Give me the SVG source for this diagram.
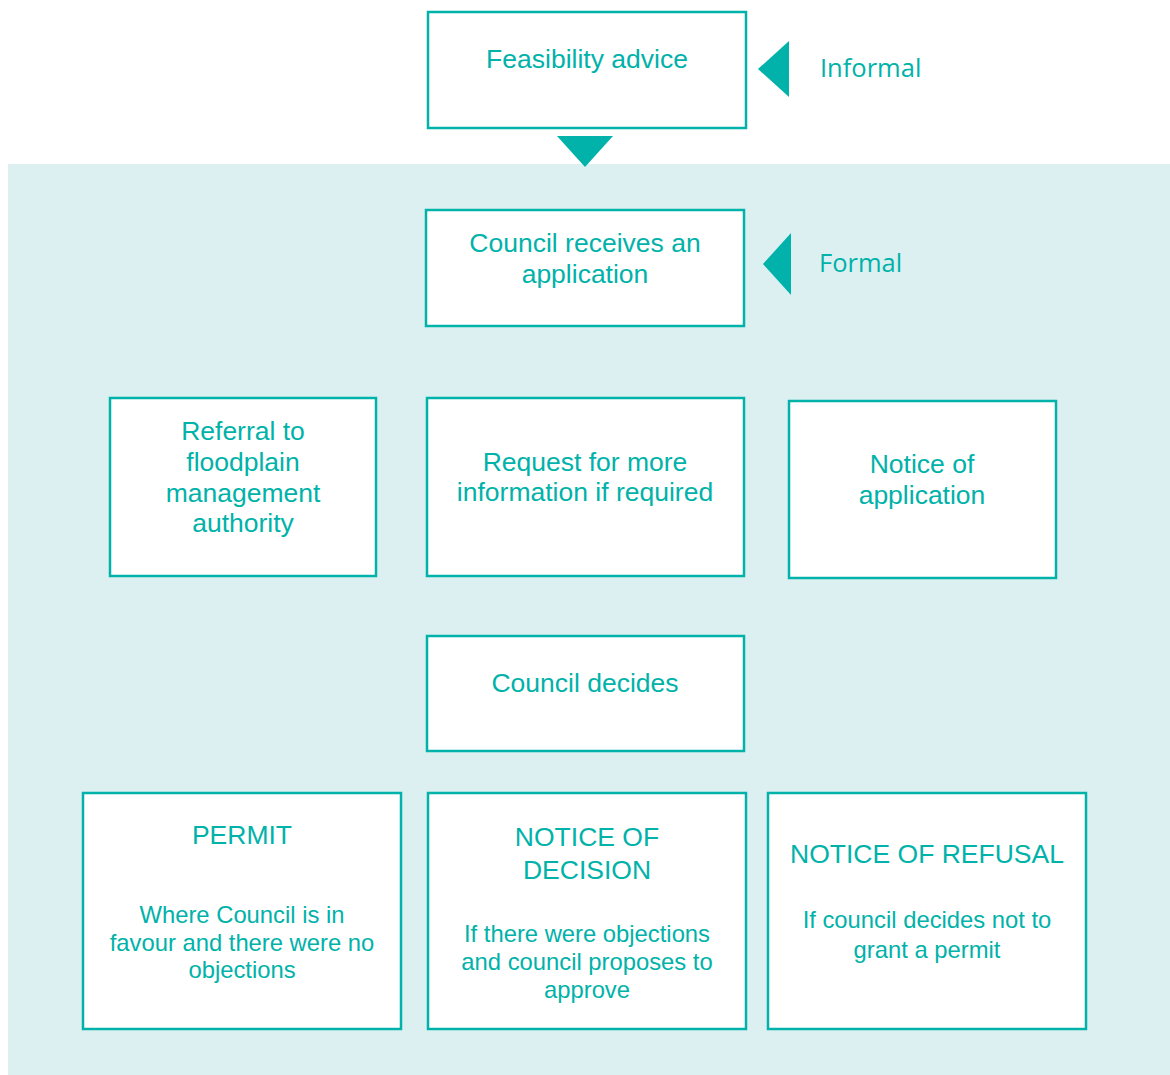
<svg xmlns="http://www.w3.org/2000/svg" width="1170" height="1075" viewBox="0 0 1170 1075">
<style>
.box{fill:#fff;stroke:#00b2a9;stroke-width:2.5}
.tri{fill:#00b2a9}
.t{font-family:"Liberation Sans",Arial,sans-serif;font-size:26.5px;fill:#00b2a9;text-anchor:middle}
.s{font-family:"Liberation Sans",Arial,sans-serif;font-size:23.8px;fill:#00b2a9;text-anchor:middle}
.l{font-family:"Open Sans","Liberation Sans",sans-serif;font-size:25.5px;fill:#00b2a9}
</style>
<rect x="8" y="164" width="1162" height="911" fill="#dcf0f2"/>
<g id="connectors">
<polygon class="tri" points="557,136 613,136 585,167"/>
<polygon class="tri" points="758,69 789,41 789,97"/>
<polygon class="tri" points="763,264 791,233 791,295"/>
<text class="l" x="820" y="77">Informal</text>
<text class="l" x="819" y="272">Formal</text>
</g>
<g id="feasibility">
<rect class="box" x="428" y="12" width="318" height="116"/>
<text class="t" x="587" y="68">Feasibility advice</text>
</g>
<g id="receives">
<rect class="box" x="426" y="210" width="318" height="116"/>
<text class="t" x="585" y="252">Council receives an</text>
<text class="t" x="585" y="283">application</text>
</g>
<g id="referral">
<rect class="box" x="110" y="398" width="266" height="178"/>
<text class="t" x="243" y="440">Referral to</text>
<text class="t" x="243" y="471">floodplain</text>
<text class="t" x="243" y="502">management</text>
<text class="t" x="243" y="532">authority</text>
</g>
<g id="request">
<rect class="box" x="427" y="398" width="317" height="178"/>
<text class="t" x="585" y="471">Request for more</text>
<text class="t" x="585" y="501">information if required</text>
</g>
<g id="notice-app">
<rect class="box" x="789" y="401" width="267" height="177"/>
<text class="t" x="922" y="473">Notice of</text>
<text class="t" x="922" y="504">application</text>
</g>
<g id="decides">
<rect class="box" x="427" y="636" width="317" height="115"/>
<text class="t" x="585" y="692">Council decides</text>
</g>
<g id="permit">
<rect class="box" x="83" y="793" width="318" height="236"/>
<text class="t" x="242" y="844">PERMIT</text>
<text class="s" x="242" y="923">Where Council is in</text>
<text class="s" x="242" y="951">favour and there were no</text>
<text class="s" x="242" y="978">objections</text>
</g>
<g id="decision">
<rect class="box" x="428" y="793" width="318" height="236"/>
<text class="t" x="587" y="846">NOTICE OF</text>
<text class="t" x="587" y="879">DECISION</text>
<text class="s" x="587" y="942">If there were objections</text>
<text class="s" x="587" y="970">and council proposes to</text>
<text class="s" x="587" y="998">approve</text>
</g>
<g id="refusal">
<rect class="box" x="768" y="793" width="318" height="236"/>
<text class="t" x="927" y="863">NOTICE OF REFUSAL</text>
<text class="s" x="927" y="928">If council decides not to</text>
<text class="s" x="927" y="958">grant a permit</text>
</g>
</svg>
